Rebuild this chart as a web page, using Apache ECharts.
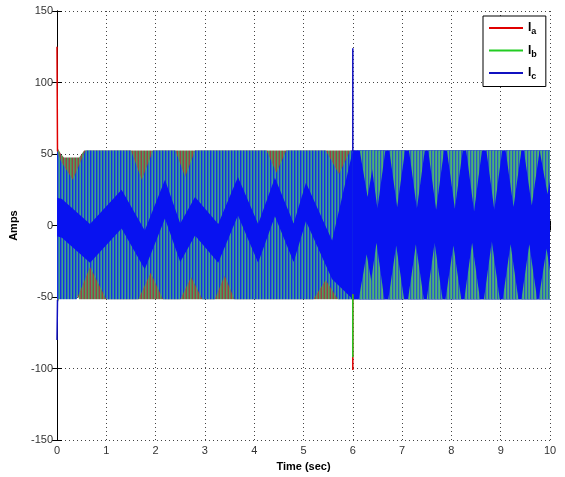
<!DOCTYPE html>
<html>
<head>
<meta charset="utf-8">
<script src="https://cdn.jsdelivr.net/npm/echarts@6/dist/echarts.min.js"></script>
<style>
html, body { margin: 0; padding: 0; background: #fff; }
#chart { width: 565px; height: 477px; }
</style>
</head>
<body>
<div id="chart"></div>
<script>
// outer envelope of the three currents (time in s, current in A)
const envTopT = [0, 0.08, 0.14, 0.45, 0.55, 10];
const envTopV = [55, 50, 47.5, 47.5, 52.5, 52.5];
const envBotT = [0, 0.06, 0.1, 0.38, 0.45, 10];
const envBotV = [-55, -50, -46, -46, -51.5, -51.5];

// where the blue strokes reach (outside it only red/green strokes show)
const icTopT = [0, 0.08, 0.32, 0.58, 1.5, 1.72, 1.95, 2.4, 2.6, 2.8, 4.25, 4.45, 4.65, 5.45, 5.72, 5.95, 10];
const icTopV = [52.5, 45, 32, 52.5, 52.5, 32, 52.5, 52.5, 34, 52.5, 52.5, 37, 52.5, 52.5, 36, 52.5, 52.5];
const icBotT = [0, 0.4, 0.67, 1.0, 1.65, 1.9, 2.15, 2.5, 2.72, 2.95, 3.2, 3.4, 3.6, 5.2, 5.45, 5.7, 10];
const icBotV = [-51.5, -51.5, -29, -51.5, -51.5, -33, -51.5, -51.5, -36, -51.5, -51.5, -35, -51.5, -51.5, -38, -51.5, -51.5];

// dense blue band (Ic) zig-zag before the switching at 6 s
const bandT  = [0, 0.1, 0.67, 1.31, 1.78, 2.19, 2.5, 2.8, 3.27, 3.67, 4.08, 4.42, 4.8, 5.05, 5.58, 6.0];
const bandHi = [19.5, 18.5, 1, 25, -3.5, 32, 1.5, 20, 1, 34, 1, 33.5, 1.5, 30, -10.5, 52.5];
const bandLo = [-7.5, -8.5, -26, -2, -30.5, 5, -25.5, -7, -26, 7, -26, 6.5, -25.5, 3, -37.5, -51.5];

// after 6 s: Ia/Ib show through as wedges from the top and bottom
const wedgeTopT = [6.3, 6.5, 6.9, 7.3, 7.69, 8.07, 8.46, 8.87, 9.26, 9.63, 9.95];
const wedgeTopV = [20, 12, 13, 12, 11, 12, 10, 11, 13, 14, 22];
const wedgeBotT = [6.28, 6.48, 6.88, 7.28, 7.66, 8.04, 8.42, 8.82, 9.2, 9.58, 9.93];
const wedgeBotV = [-20, -12, -14, -13, -12, -14, -12, -11, -13, -13, -16];

// switching transients
const spikeA = [[0, 125], [0.01, 52], [0.01, '-'], [6, -48], [6, -101]];
const spikeB = [[6, -48], [6, -92]];
const spikeC = [[0, -80], [0.01, -52], [0.01, '-'], [6, 52], [6, 124]];

const TOP = 52.5, BOT = -51.5, WEDGE_HALF = 0.16;
const RED = '#e00000', GREEN = '#22cc22', BLUE = '#1010c0';

function stripes(cols) {
  const c = document.createElement('canvas');
  c.width = cols.length; c.height = 4;
  const g = c.getContext('2d');
  cols.forEach((col, i) => { g.fillStyle = col; g.fillRect(i, 0, 1, 4); });
  return { image: c, repeat: 'repeat' };
}
const redGreen  = stripes(['#9a3c4c', '#4f9a62', '#6f7a48']);
const blueTeal  = stripes(['#1430e4', '#2e74b4', '#3ea28a']);
const tealGreen = stripes(['#3da08c', '#55b070', '#2a58c8']);
const solidBlue = '#0812f0';

function poly(topT, topV, botT, botV, fill, z) {
  return {
    type: 'custom', silent: true, clip: true, z: z,
    data: [[0, 0]],
    renderItem: function (params, api) {
      const pts = [];
      topT.forEach((t, i) => pts.push(api.coord([t, topV[i]])));
      for (let i = botT.length - 1; i >= 0; i--) pts.push(api.coord([botT[i], botV[i]]));
      return { type: 'polygon', shape: { points: pts }, style: { fill: fill } };
    }
  };
}

function wedges(ts, vs, base, fill, z) {
  return {
    type: 'custom', silent: true, clip: true, z: z,
    data: ts.map((t, i) => [t, vs[i]]),
    renderItem: function (params, api) {
      const t = api.value(0), v = api.value(1);
      return {
        type: 'polygon',
        shape: { points: [api.coord([t - WEDGE_HALF, base]), api.coord([t, v]), api.coord([t + WEDGE_HALF, base])] },
        style: { fill: fill }
      };
    }
  };
}

const chart = echarts.init(document.getElementById('chart'));
const axisCommon = {
  axisLine: { show: true, lineStyle: { color: '#000', width: 1 } },
  axisTick: { show: true, inside: true, length: 5, lineStyle: { color: '#000' } }
};
chart.setOption({
  animation: false,
  backgroundColor: '#fff',
  grid: { left: 57, right: 15, top: 11, bottom: 36 },
  xAxis: [
    Object.assign({
      type: 'value', min: 0, max: 10, interval: 1, position: 'bottom',
      name: 'Time (sec)', nameLocation: 'middle', nameGap: 19,
      nameTextStyle: { fontFamily: 'Liberation Sans', fontWeight: 'bold', fontSize: 11, color: '#000' },
      axisLabel: { fontFamily: 'Liberation Sans', fontSize: 11, color: '#333', margin: 5 },
      splitLine: { show: true, lineStyle: { type: [1, 3], color: '#444' } }
    }, axisCommon),
    Object.assign({
      type: 'value', min: 0, max: 10, interval: 1, position: 'top',
      axisLabel: { show: false }, splitLine: { show: false }
    }, axisCommon)
  ],
  yAxis: [
    Object.assign({
      type: 'value', min: -150, max: 150, interval: 50, position: 'left',
      name: 'Amps', nameLocation: 'middle', nameGap: 38,
      nameTextStyle: { fontFamily: 'Liberation Sans', fontWeight: 'bold', fontSize: 11, color: '#000' },
      axisLabel: { fontFamily: 'Liberation Sans', fontSize: 11, color: '#333', margin: 4 },
      splitLine: { show: true, lineStyle: { type: [1, 3], color: '#444' } }
    }, axisCommon),
    Object.assign({
      type: 'value', min: -150, max: 150, interval: 50, position: 'right',
      axisLabel: { show: false }, splitLine: { show: false }
    }, axisCommon)
  ],
  legend: {
    data: [
      { name: 'Ia', itemStyle: { color: RED } },
      { name: 'Ib', itemStyle: { color: GREEN } },
      { name: 'Ic', itemStyle: { color: BLUE } }
    ],
    orient: 'vertical', left: 483, top: 16,
    backgroundColor: '#fff', borderColor: '#000', borderWidth: 1,
    padding: [6, 9, 5, 6], itemGap: 8, itemWidth: 34, itemHeight: 2,
    icon: 'rect',
    formatter: n => '{i|I}{s|' + n.slice(1) + '}',
    textStyle: {
      rich: {
        i: { fontFamily: 'Liberation Sans', fontWeight: 'bold', fontSize: 12, color: '#000' },
        s: { fontFamily: 'Liberation Sans', fontWeight: 'bold', fontSize: 9, color: '#000', padding: [8, 0, 0, 0] }
      }
    }
  },
  series: [
    poly(envTopT, envTopV, envBotT, envBotV, redGreen, 1),
    poly(icTopT, icTopV, icBotT, icBotV, blueTeal, 2),
    poly(bandT, bandHi, bandT, bandLo, solidBlue, 3),
    poly([6, 10], [TOP, TOP], [6, 10], [BOT, BOT], solidBlue, 3),
    wedges(wedgeTopT, wedgeTopV, TOP, tealGreen, 4),
    wedges(wedgeBotT, wedgeBotV, BOT, tealGreen, 4),
    { name: 'Ia', type: 'line', data: spikeA, symbol: 'none', z: 5, lineStyle: { color: RED, width: 1.5 }, itemStyle: { color: RED } },
    { name: 'Ib', type: 'line', data: spikeB, symbol: 'none', z: 5, lineStyle: { color: GREEN, width: 1.5 }, itemStyle: { color: GREEN } },
    { name: 'Ic', type: 'line', data: spikeC, symbol: 'none', z: 5, lineStyle: { color: BLUE, width: 1.5 }, itemStyle: { color: BLUE } }
  ]
});
</script>
</body>
</html>
